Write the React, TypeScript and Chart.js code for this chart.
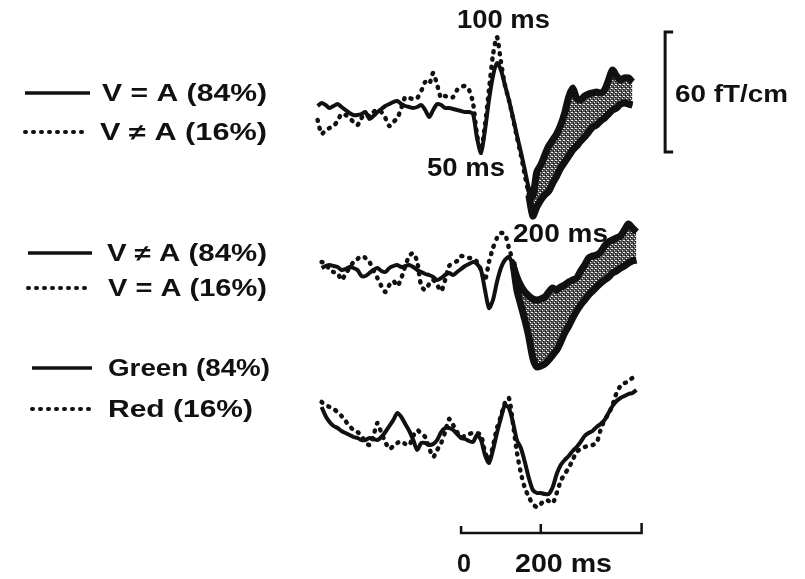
import { useEffect, useRef } from "react";
import { Chart, registerables } from "chart.js";

Chart.register(...registerables);

// Sample times (ms) for panel 1 and for panels 2/3
const TIME_A = [
  -360, -350, -340, -330, -320, -310, -300, -290, -280, -270,
  -260, -250, -240, -230, -220, -210, -200, -190, -180, -170,
  -160, -150, -140, -130, -120, -110, -100, -90, -80, -70,
  -60, -50, -40, -30, -20, -10, 0, 10, 20, 30,
  40, 50, 60, 70, 80, 90, 100, 110, 120, 130,
  140, 150, 160, 170, 180, 190, 200, 210, 220, 230,
  240, 250, 260, 270, 280, 290, 300, 310, 320, 330,
  340, 350, 360, 370, 380, 390, 400, 410, 420, 430,
];
const TIME_B = [
  -350, -340, -330, -320, -310, -300, -290, -280, -270, -260,
  -250, -240, -230, -220, -210, -200, -190, -180, -170, -160,
  -150, -140, -130, -120, -110, -100, -90, -80, -70, -60,
  -50, -40, -30, -20, -10, 0, 10, 20, 30, 40,
  50, 60, 70, 80, 90, 100, 110, 120, 130, 140,
  150, 160, 170, 180, 190, 200, 210, 220, 230, 240,
  250, 260, 270, 280, 290, 300, 310, 320, 330, 340,
  350, 360, 370, 380, 390, 400, 410, 420, 430, 440,
];

// Panel 1 (fT/cm): V = A (84%) solid, V ≠ A (16%) dotted
const P1_SOLID = [
  0.5, 2, 1, -0.5, 0.5, 1.5, 0, -1.5, -3, -4,
  -4, -3.5, -2.5, -6, -4.5, -2.5, -1, 0.5, 1.5, 2.5,
  3, 1.5, 0.5, 0, -0.5, 0, 1, -1.5, -5, -1.5,
  1.5, 1, -0.5, -0.5, -1, -1.5, -2, -2.5, -2.5, -3.5,
  -15.5, -23, -11.5, 3.5, 15.5, 22, 18.5, 11, 3.5, -5,
  -14, -22.5, -31.5, -40.5, -44.5, -32.5, -29, -24, -19.5, -16.5,
  -13.5, -9, -3, 5, 9.5, 4.5, 3.5, 5.5, 6.5, 7,
  7.5, 7, 8.5, 13.5, 18.5, 15.5, 13.5, 14.5, 14.5, 12.5,
];
const P1_DOTTED = [
  -6.5, -13.5, -11.5, -10.5, -9.5, -7, -3.5, -4, -5.5, -7.5,
  -9, -5.5, -3.5, -4.5, -2.5, -1.5, -2.5, -5.5, -9.5, -7.5,
  -5.5, -0.5, 5, 4.5, 4, 4.5, 8, 12.5, 11.5, 17,
  11, 4.5, 5.5, 4.5, 5, 8.5, 10, 10.5, 8.5, 2,
  -14, -21.5, -9, 8.5, 26, 35, 22.5, 11, 3.5, -5.5,
  -15, -24, -34, -44, -54.5, -50, -46.5, -44, -42, -38,
  -34.5, -30.5, -27.5, -24.5, -21.5, -19.5, -17, -15, -12.5, -10,
  -9, -7, -5.5, -3.5, -1.5, -0.5, 1.5, 2, 1.5, 1,
];

// Panel 2: V ≠ A (84%) solid, V = A (16%) dotted
const P2_SOLID = [
  0, 1, 1.5, 1, 0.5, -1, -0.5, 0.5, 0, -1,
  -4, -4, -2.5, -1, 0, -1.5, -2, 0, 1, 1.5,
  0.5, 1, 1.5, 0.5, -1, -2, -3, -3.5, -4.5, -6,
  -5, -3.5, -2.5, -3.5, -2, -0.5, 1, 2, 3, 2,
  -1, -11, -20, -16, -7, 0, 4, 5.5, 1.5, -4.5,
  -9, -12, -14, -15.5, -16, -15.5, -14.5, -12, -10, -11,
  -9.5, -8.5, -7, -6, -5, -1.5, 1.5, 5, 6, 6.5,
  8, 11, 13, 14, 15, 16, 19, 22, 20, 18,
];
const P2_DOTTED = [
  3, 2.5, -1, -2, -2.5, -6, -3, 0, 3, 4.5,
  6, 5, 3, -1, -5, -9, -12, -8.5, -6.5, -9,
  -5, 1, 6, 7.5, 3, -9, -11, -8, -6, -8.5,
  -11.5, -6, 1, 2.5, 3.5, 6, 5.5, 5, 5, 3,
  -1, -6, 3, 10, 15, 17.5, 17, 10, 3, -11,
  -18.5, -26, -34.5, -45, -49.5, -49, -48, -46, -43.5, -41,
  -37, -32.5, -29, -25, -21.5, -18.5, -16, -13.5, -11.5, -9.5,
  -7.5, -6, -4.5, -2.5, -1.5, 0, 1, 2.5, 3.5, 4,
];

// Panel 3: Green (84%) solid, Red (16%) dotted
const P3_SOLID = [
  15, 10.5, 7.5, 5.5, 4.5, 3, 2, 1, 0, -0.5,
  -1.5, -1.5, -0.5, -1, -1.5, 0, 2.5, 5.5, 8.5, 12,
  10, 6.5, 3, -1.5, -6.5, -3, -3, -4, -3.5, -1.5,
  2.5, 4.5, 4.5, 3.5, 1.5, -0.5, -1, -2, -2.5, 1,
  -1.5, -9, -13, -6.5, 2, 9.5, 16, 14.5, 7.5, -1.5,
  -5.5, -12.5, -20.5, -26.5, -28, -28, -28.5, -28.5, -25, -18.5,
  -14, -11.5, -9.5, -7, -5, -2.5, 0.5, 2, 3, 5,
  6.5, 8.5, 12, 15.5, 18, 19.5, 20.5, 21.5, 22, 23.5,
];
const P3_DOTTED = [
  17.5, 16, 15, 14, 12.5, 10.5, 8, 5.5, 3.5, 2.5,
  0.5, -2.5, -4, 0.5, 7, 2, -2.5, -6, -4.5, -3,
  -2, -3.5, -4, 0.5, 3.5, 1.5, 0, -5.5, -10, -6.5,
  -3, 2.5, 9, 6, 2.5, 0, 0.5, 1.5, 2, 2,
  1, -7.5, -11.5, -4.5, 4.5, 10.5, 17, 19.5, 7, -7.5,
  -18, -25.5, -30, -33.5, -35, -33.5, -31.5, -32, -33, -28,
  -22, -18.5, -15.5, -11.5, -7.5, -6, -5, -4.5, -4, -3,
  3.5, 8.5, 11.5, 16, 22, 25.5, 27, 27.5, 29.5, 27.5,
];

// Shaded difference starts (ms)
const BAND1_FROM = 170;
const BAND2_FROM = 130;

// Legend / annotation texts
const LEGEND_TEXTS = [
  "V = A (84%)", "V \u2260 A (16%)",
  "V \u2260 A (84%)", "V = A (16%)",
  "Green (84%)", "Red (16%)",
];
const SCALE_LABEL = "60 fT/cm";
const SCALE_FT = 60;
const TIME_TICKS = [0, 200, 453];
const TIME_LABELS = ["0", "200 ms"];
const PEAK_LABELS = ["100 ms", "50 ms", "200 ms"];

// layout (axis ranges and panel offsets)
const X_MIN = -1157;
const X_MAX = 863;
const Y_MIN = -289.5;
const Y_MAX = 0;
const OFFSETS = [-53.5, -134, -218.5];
const FONT = '"Liberation Sans", Arial, Helvetica, sans-serif';
const INK = "#111";

function pts(times: number[], vals: number[], off: number, from = -Infinity) {
  const out: { x: number; y: number }[] = [];
  times.forEach((t, i) => {
    if (t >= from) out.push({ x: t, y: vals[i] + off });
  });
  return out;
}

function stretchText(ctx: CanvasRenderingContext2D, text: string, left: number, cy: number, width: number, size: number) {
  ctx.save();
  ctx.font = `bold ${size}px ${FONT}`;
  const w = ctx.measureText(text).width;
  ctx.translate(left, cy);
  ctx.scale(width / w, 1);
  ctx.textAlign = "left";
  ctx.textBaseline = "middle";
  ctx.fillStyle = INK;
  ctx.fillText(text, 0, 0);
  ctx.restore();
}

export default function App() {
  const ref = useRef<HTMLCanvasElement>(null);

  useEffect(() => {
    const canvas = ref.current!;
    const pc = document.createElement("canvas");
    pc.width = 4;
    pc.height = 4;
    const p = pc.getContext("2d")!;
    p.fillStyle = "#555";
    p.fillRect(0, 0, 4, 4);
    p.fillStyle = "#f0f0f0";
    p.fillRect(0, 0, 1, 1);
    p.fillRect(2, 2, 1, 1);
    p.fillRect(3, 0, 1, 1);
    p.fillStyle = "#000";
    p.fillRect(1, 3, 1, 1);
    p.fillRect(3, 1, 1, 1);
    const pattern = canvas.getContext("2d")!.createPattern(pc, "repeat")!;

    const solid = (data: any) => ({
      data,
      borderColor: INK,
      borderWidth: 4,
      pointRadius: 0,
      tension: 0.25,
      fill: false,
      order: 1,
    });
    const dotted = (data: any) => ({
      data,
      borderColor: INK,
      borderWidth: 4.5,
      borderDash: [1, 7],
      borderCapStyle: "round",
      pointRadius: 0,
      tension: 0.25,
      fill: false,
      order: 1,
    });
    const bandLow = (data: any) => ({
      data,
      borderColor: INK,
      borderWidth: 7,
      pointRadius: 0,
      tension: 0.25,
      fill: false,
      order: 5,
    });
    const bandUp = (data: any) => ({
      data,
      borderColor: INK,
      borderWidth: 7,
      pointRadius: 0,
      tension: 0.25,
      fill: "-1",
      backgroundColor: pattern,
      order: 5,
    });

    const datasets: any[] = [
      bandLow(pts(TIME_A, P1_DOTTED, OFFSETS[0], BAND1_FROM)),
      bandUp(pts(TIME_A, P1_SOLID, OFFSETS[0], BAND1_FROM)),
      bandLow(pts(TIME_B, P2_DOTTED, OFFSETS[1], BAND2_FROM)),
      bandUp(pts(TIME_B, P2_SOLID, OFFSETS[1], BAND2_FROM)),
      solid(pts(TIME_A, P1_SOLID, OFFSETS[0])),
      dotted(pts(TIME_A, P1_DOTTED, OFFSETS[0])),
      solid(pts(TIME_B, P2_SOLID, OFFSETS[1])),
      dotted(pts(TIME_B, P2_DOTTED, OFFSETS[1])),
      solid(pts(TIME_B, P3_SOLID, OFFSETS[2])),
      dotted(pts(TIME_B, P3_DOTTED, OFFSETS[2])),
    ];

    const annot = {
      id: "annot",
      afterDatasetsDraw(chart: any) {
        const ctx: CanvasRenderingContext2D = chart.ctx;
        const xs = chart.scales.x;
        const ys = chart.scales.y;
        ctx.save();
        ctx.strokeStyle = INK;
        ctx.fillStyle = INK;

        // legend samples
        const legendRows = [
          { x0: 25, x1: 90, y: 93, dash: false, tx: 102, tw: 165 },
          { x0: 25, x1: 84, y: 132, dash: true, tx: 100, tw: 167 },
          { x0: 28, x1: 92, y: 253, dash: false, tx: 107, tw: 160 },
          { x0: 28, x1: 92, y: 288, dash: true, tx: 108, tw: 159 },
          { x0: 32, x1: 92, y: 368, dash: false, tx: 108, tw: 162 },
          { x0: 32, x1: 93, y: 409, dash: true, tx: 108, tw: 145 },
        ];
        legendRows.forEach((r, i) => {
          ctx.save();
          ctx.beginPath();
          if (r.dash) {
            ctx.setLineDash([1, 7]);
            ctx.lineCap = "round";
            ctx.lineWidth = 4;
          } else {
            ctx.lineWidth = 3.5;
          }
          ctx.moveTo(r.x0, r.y);
          ctx.lineTo(r.x1, r.y);
          ctx.stroke();
          ctx.restore();
          stretchText(ctx, LEGEND_TEXTS[i], r.tx, r.y + 2, r.tw, 23);
        });

        // vertical 60 fT/cm scale bar
        const vx = xs.getPixelForValue(512);
        const vTop = ys.getPixelForValue(-16);
        const vBot = ys.getPixelForValue(-16 - SCALE_FT);
        ctx.lineWidth = 3;
        ctx.beginPath();
        ctx.moveTo(vx + 8, vTop);
        ctx.lineTo(vx, vTop);
        ctx.lineTo(vx, vBot);
        ctx.lineTo(vx + 8, vBot);
        ctx.stroke();
        stretchText(ctx, SCALE_LABEL, 675, 95, 113, 24);

        // time scale bar
        const ty = ys.getPixelForValue(-266.5);
        const tx0 = xs.getPixelForValue(TIME_TICKS[0]);
        const tx2 = xs.getPixelForValue(TIME_TICKS[2]);
        ctx.lineWidth = 2.5;
        ctx.beginPath();
        ctx.moveTo(tx0, ty - 7);
        ctx.lineTo(tx0, ty);
        ctx.lineTo(tx2, ty);
        ctx.lineTo(tx2, ty - 10);
        ctx.stroke();
        const tm = xs.getPixelForValue(TIME_TICKS[1]);
        ctx.beginPath();
        ctx.moveTo(tm, ty);
        ctx.lineTo(tm, ty - 9);
        ctx.stroke();
        stretchText(ctx, TIME_LABELS[0], 457, 565, 14, 25);
        stretchText(ctx, TIME_LABELS[1], 515, 565, 97, 25);

        // peak labels
        stretchText(ctx, PEAK_LABELS[0], 457, 21, 93, 26);
        stretchText(ctx, PEAK_LABELS[1], 427, 169, 78, 25);
        stretchText(ctx, PEAK_LABELS[2], 513, 235, 95, 25);
        ctx.restore();
      },
    };

    const chart = new Chart(canvas, {
      type: "line",
      data: { datasets },
      options: {
        responsive: false,
        animation: false,
        events: [],
        layout: { padding: 0 },
        plugins: { legend: { display: false }, tooltip: { enabled: false } },
        scales: {
          x: { type: "linear", min: X_MIN, max: X_MAX, display: false },
          y: { type: "linear", min: Y_MIN, max: Y_MAX, display: false },
        },
      },
      plugins: [annot],
    } as any);
    return () => chart.destroy();
  }, []);

  return (
    <div style={{ position: "absolute", left: 0, top: 0, width: 805, height: 579, background: "#fff" }}>
      <canvas ref={ref} width={805} height={579} style={{ display: "block" }} />
    </div>
  );
}
